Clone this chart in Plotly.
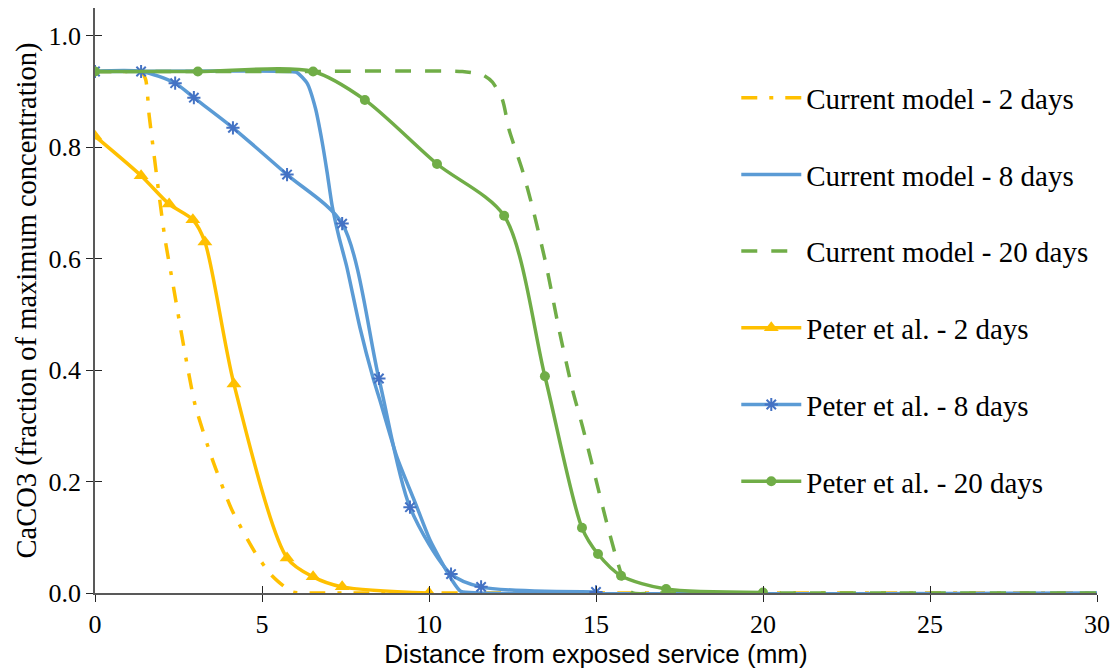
import plotly.graph_objects as go

# Distance from exposed surface (mm) and CaCO3 fraction for each series
model_2d_x = [0, 1.0, 1.40, 1.52, 1.62, 1.75, 1.90, 2.10, 2.35, 2.65, 3.0, 3.5, 4.1, 4.8, 5.3, 5.9, 6.5, 8, 11, 30]
model_2d_y = [0.936, 0.936, 0.934, 0.921, 0.858, 0.795, 0.723, 0.634, 0.549, 0.445, 0.337, 0.242, 0.149, 0.072, 0.031, 0.002, 0, 0, 0, 0]

model_8d_x = [0, 5.8, 6.05, 6.35, 6.6, 6.8, 6.95, 7.10, 7.30, 7.54, 7.93, 8.32, 8.53, 9.04, 9.6, 10.03, 10.69, 10.95, 11.5, 30]
model_8d_y = [0.936, 0.936, 0.934, 0.915, 0.870, 0.810, 0.755, 0.695, 0.640, 0.585, 0.477, 0.387, 0.346, 0.244, 0.160, 0.095, 0.023, 0.003, 0, 0]

model_20d_x = [0, 6, 11.0, 11.6, 11.9, 12.2, 12.4, 12.8, 13.1, 13.5, 13.9, 14.3, 14.6, 15.0, 15.3, 15.6, 15.9, 16.1, 17, 30]
model_20d_y = [0.936, 0.936, 0.936, 0.930, 0.917, 0.885, 0.831, 0.758, 0.692, 0.591, 0.471, 0.364, 0.298, 0.203, 0.131, 0.065, 0.011, 0.0, 0, 0]

peter_2d_x = [0, 1.38, 2.22, 2.93, 3.29, 4.16, 5.75, 6.53, 7.40, 10.0]
peter_2d_y = [0.820, 0.749, 0.698, 0.670, 0.630, 0.375, 0.063, 0.029, 0.011, 0.0]

peter_8d_x = [0, 1.38, 2.40, 2.96, 4.13, 5.75, 7.40, 8.50, 9.43, 10.66, 11.56, 15.0]
peter_8d_y = [0.936, 0.936, 0.915, 0.889, 0.835, 0.751, 0.663, 0.385, 0.154, 0.034, 0.011, 0.002]

peter_20d_x = [0, 3.08, 6.53, 8.08, 10.24, 12.25, 13.47, 14.58, 15.06, 15.75, 17.1, 20.0]
peter_20d_y = [0.936, 0.936, 0.936, 0.885, 0.770, 0.677, 0.389, 0.117, 0.070, 0.031, 0.007, 0.001]

x_ticks = [0, 5, 10, 15, 20, 25, 30]
y_ticks = [0.0, 0.2, 0.4, 0.6, 0.8, 1.0]
y_tick_text = ["0.0", "0.2", "0.4", "0.6", "0.8", "1.0"]

YELLOW = "#FFC000"
BLUE = "#5B9BD5"
BLUE_MARK = "#4472C4"
GREEN = "#70AD47"
SERIF = "Liberation Serif"
SANS = "Liberation Sans"

fig = go.Figure()

def add_series(name, xs, ys, color, dash="solid", marker=None, smoothing=0.8):
    kw = dict(mode="lines")
    if marker is not None:
        kw = dict(mode="lines+markers", marker=marker)
    fig.add_trace(go.Scatter(
        x=xs, y=ys, name=name, legendgroup=name,
        line=dict(color=color, width=3.5, dash=dash, shape="spline", smoothing=smoothing),
        **kw,
    ))

add_series("Current model - 2 days", model_2d_x, model_2d_y, YELLOW, dash="16px,12px,4px,12px", smoothing=0.6)
add_series("Current model - 8 days", model_8d_x, model_8d_y, BLUE, smoothing=0.6)
add_series("Current model - 20 days", model_20d_x, model_20d_y, GREEN, dash="16px,14px", smoothing=0.6)
add_series("Peter et al. - 2 days", peter_2d_x, peter_2d_y, YELLOW,
           marker=dict(symbol="triangle-up", size=13, color=YELLOW))
add_series("Peter et al. - 8 days", peter_8d_x, peter_8d_y, BLUE,
           marker=dict(symbol="asterisk-open", size=11, color=BLUE_MARK, line=dict(color=BLUE_MARK, width=2)))
add_series("Peter et al. - 20 days", peter_20d_x, peter_20d_y, GREEN,
           marker=dict(symbol="circle", size=10, color=GREEN))

# companion axes carrying the inward half of the crossing tick marks
fig.add_trace(go.Scatter(x=[None], y=[None], xaxis="x2", yaxis="y2", showlegend=False, hoverinfo="skip"))

axis_common = dict(showgrid=False, zeroline=False, ticklen=7, tickwidth=1.3, tickcolor="#262626")

fig.update_layout(
    width=1118, height=671,
    margin=dict(l=95, r=21, t=8, b=78),
    paper_bgcolor="white", plot_bgcolor="white",
    font=dict(family=SERIF, color="black"),
    xaxis=dict(range=[0, 30], tickvals=x_ticks, ticks="outside", showline=True,
               linecolor="#595959", linewidth=1.5,
               tickfont=dict(family=SERIF, size=26, color="black"),
               title=dict(text="Distance from exposed service (mm)", standoff=0,
                          font=dict(family=SANS, size=26, color="black")),
               **axis_common),
    yaxis=dict(range=[0, 1.05], tickvals=y_ticks, ticktext=y_tick_text, ticks="outside",
               showline=True, linecolor="#595959", linewidth=1.5,
               tickfont=dict(family=SERIF, size=26, color="black"),
               title=dict(text="CaCO3 (fraction of maximum concentration)", standoff=4,
                          font=dict(family=SERIF, size=28.5, color="black")),
               **axis_common),
    xaxis2=dict(range=[0, 30], tickvals=x_ticks, ticks="inside", overlaying="x", anchor="y2",
                showticklabels=False, showline=False, **axis_common),
    yaxis2=dict(range=[0, 1.05], tickvals=y_ticks, ticks="inside", overlaying="y", anchor="x2",
                showticklabels=False, showline=False, **axis_common),
    legend=dict(x=0.64, y=0.89, xanchor="left", yanchor="top",
                font=dict(family=SERIF, size=29, color="black"),
                bgcolor="rgba(0,0,0,0)", tracegroupgap=36, itemwidth=60),
    showlegend=True,
)

fig.write_html("out.html")
